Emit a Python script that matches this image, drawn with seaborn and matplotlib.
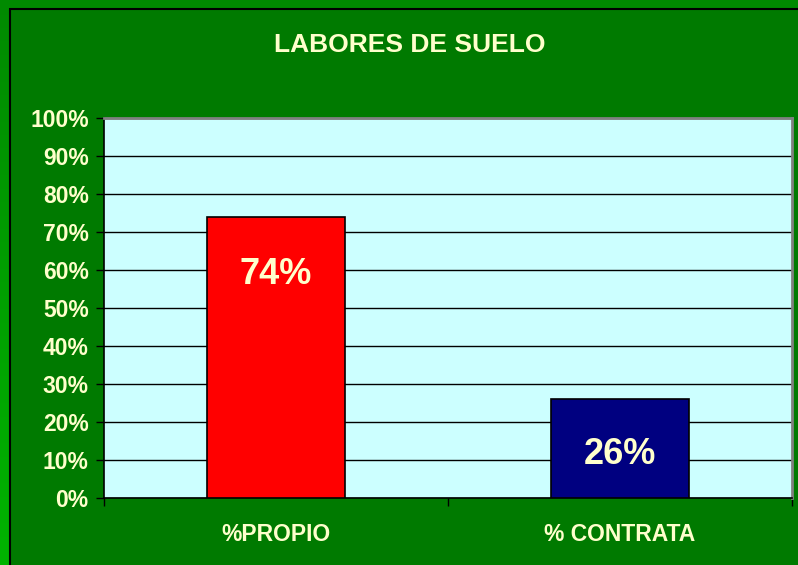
import numpy as np
import pandas as pd
import matplotlib
matplotlib.use("Agg")
import matplotlib.pyplot as plt
import seaborn as sns
from matplotlib.patches import Rectangle
from matplotlib.ticker import FixedLocator, PercentFormatter
from matplotlib.colors import LinearSegmentedColormap

categories = ["%PROPIO", "% CONTRATA"]
values = [74, 26]
bar_colors = ["#FF0000", "#000080"]
title = "LABORES DE SUELO"
y_ticks = [0, 10, 20, 30, 40, 50, 60, 70, 80, 90, 100]

sns.set_theme(style="white")
plt.rcParams["font.family"] = ["Liberation Sans", "DejaVu Sans"]

TXT = "#FFFFCC"
W, H = 798, 565
fig = plt.figure(figsize=(W / 100, H / 100), dpi=100)

# background gradient
bg = fig.add_axes([0, 0, 1, 1], zorder=-10)
grad = np.linspace(0, 1, 256).reshape(-1, 1)
cmap = LinearSegmentedColormap.from_list("g", ["#008A00", "#00B400"])
bg.imshow(grad, aspect="auto", cmap=cmap, extent=[0, 1, 0, 1], origin="upper")
bg.set_xlim(0, 1)
bg.set_ylim(0, 1)
bg.axis("off")
bg.add_patch(Rectangle((10 / W, -0.01), 1.0, (H - 9) / H + 0.01,
                       facecolor="#007A00", edgecolor="black", linewidth=1.5,
                       transform=bg.transAxes))

ax = fig.add_axes([104 / W, (H - 498) / H, (792 - 104) / W, (498 - 118) / H])
ax.set_facecolor("#CCFFFF")

df = pd.DataFrame({"cat": categories, "val": values})
sns.barplot(data=df, x="cat", y="val", hue="cat", palette=bar_colors,
            saturation=1, width=0.4, edgecolor="black", linewidth=1.2,
            legend=False, ax=ax, zorder=3)

ax.set_ylim(0, 100)
ax.set_xlim(-0.5, 1.5)
ax.yaxis.set_major_locator(FixedLocator(y_ticks))
ax.yaxis.set_major_formatter(PercentFormatter(decimals=0))
ax.grid(axis="y", color="black", linewidth=1.0, zorder=1)
ax.set_axisbelow(True)

for lab in ax.get_yticklabels():
    lab.set_fontweight("bold")
ax.tick_params(axis="y", labelsize=16.5, labelcolor=TXT, length=6, width=1,
               color="black", direction="out", left=True, pad=5)
ax.tick_params(axis="x", which="major", length=0, labelsize=16.5,
               labelcolor=TXT, pad=18)
ax.xaxis.set_minor_locator(FixedLocator([-0.5, 0.5, 1.5]))
ax.tick_params(axis="x", which="minor", length=6, width=1, color="black",
               direction="out", bottom=True)
for lab in ax.get_xticklabels():
    lab.set_fontweight("bold")

ax.set_xlabel("")
ax.set_ylabel("")

for s in ["left", "bottom"]:
    ax.spines[s].set_color("black")
    ax.spines[s].set_linewidth(1.2)
for s in ["top", "right"]:
    ax.spines[s].set_color("#808080")
    ax.spines[s].set_linewidth(2)

for i, v in enumerate(values):
    y = v - 15.3 if v > 50 else v / 2 - 1.6
    ax.text(i, y, f"{v}%", ha="center", va="center", color=TXT,
            fontsize=26, fontweight="bold", zorder=5)

fig.text(410 / W, 1 - 45 / H, title, ha="center", va="center", color=TXT,
         fontsize=19, fontweight="bold")

fig.savefig("out.png", dpi=100, facecolor=fig.get_facecolor())
